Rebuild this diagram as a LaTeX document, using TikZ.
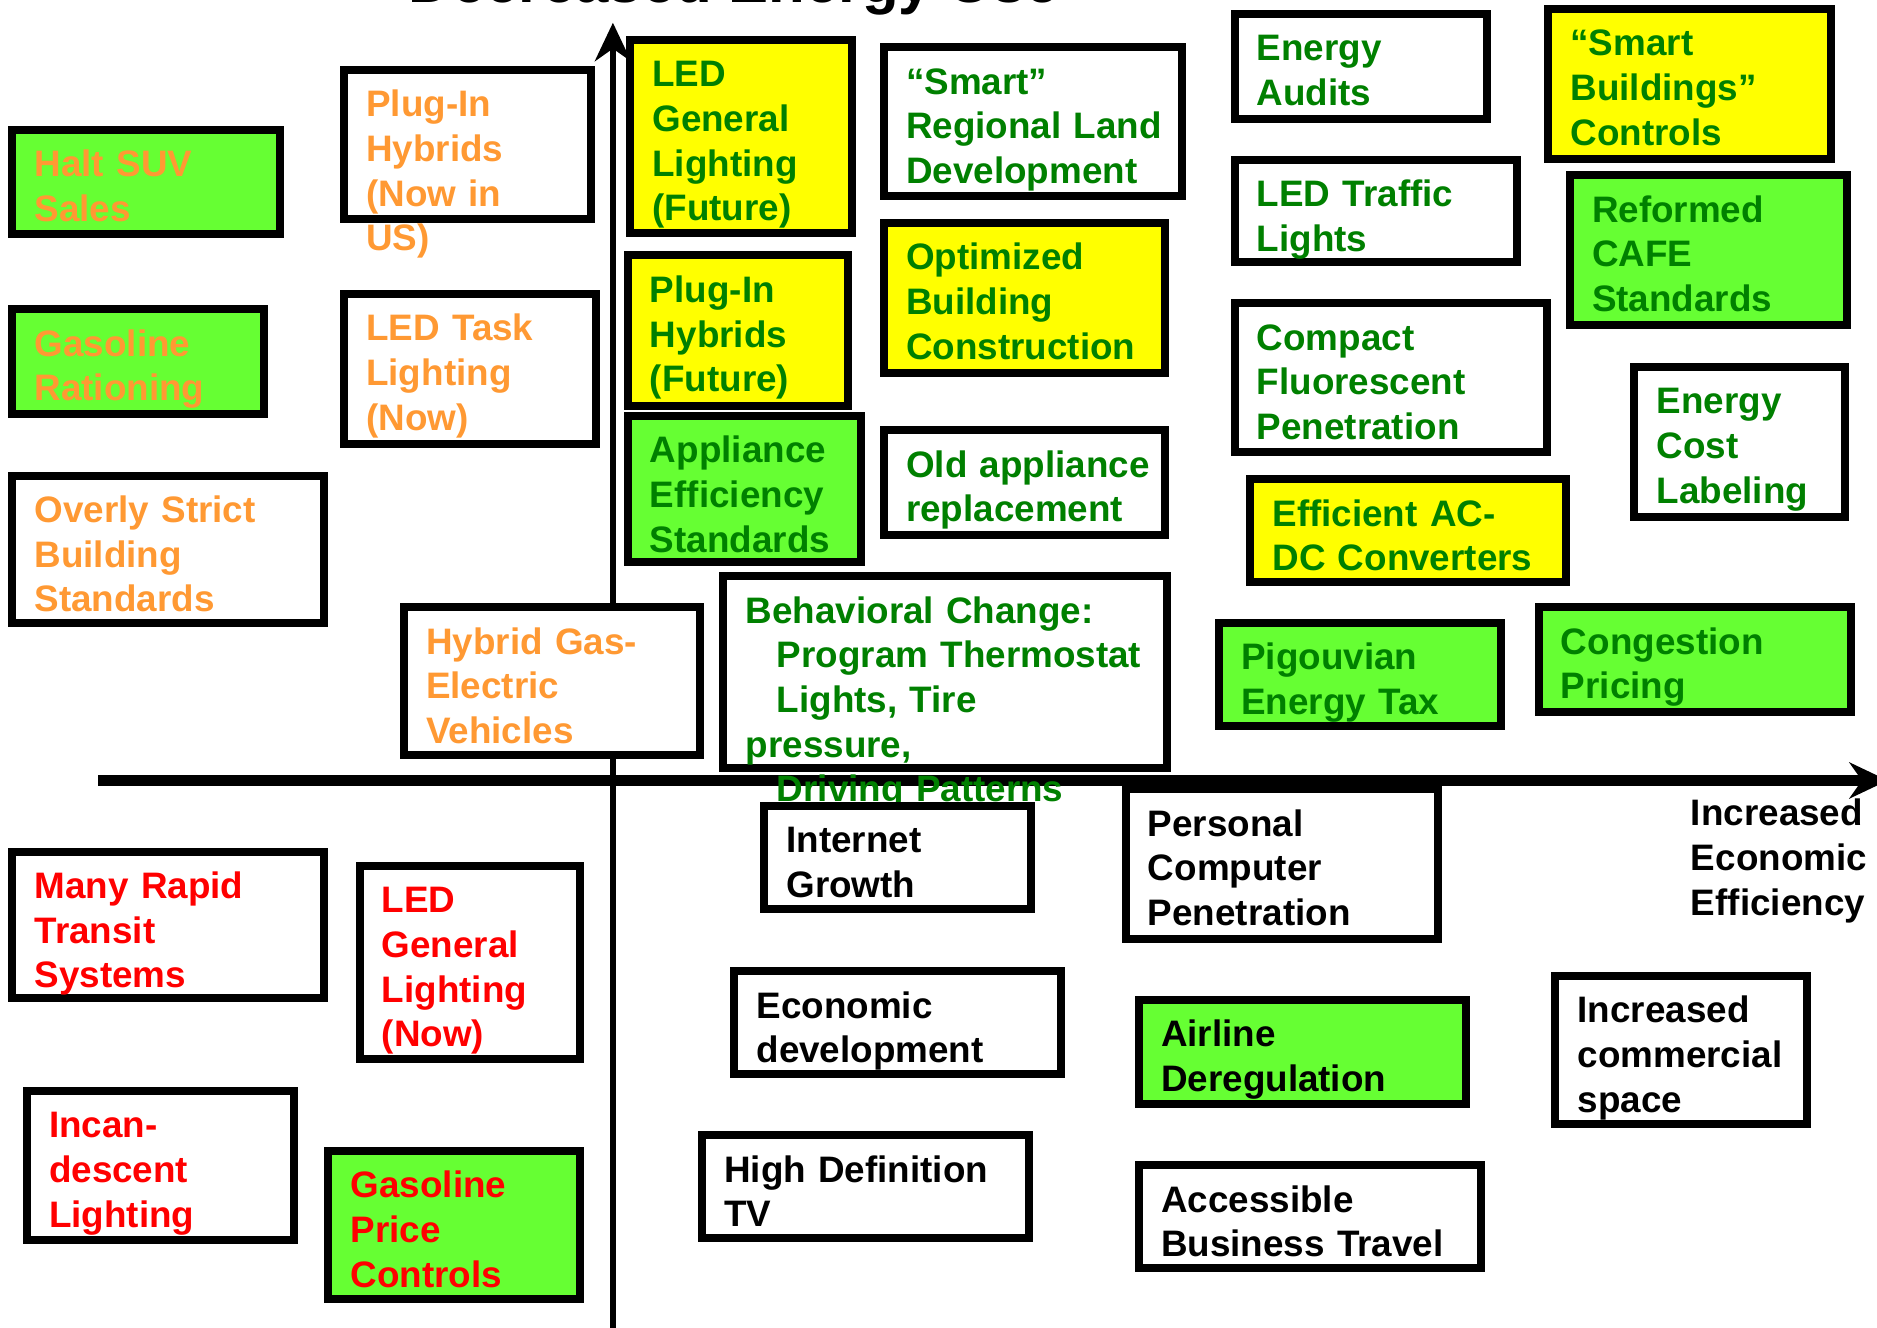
\documentclass[tikz,border=0pt]{standalone}
\usepackage{fontspec}
\setmainfont{Liberation Sans}
\usetikzlibrary{arrows.meta}
\definecolor{limefill}{RGB}{102,255,51}
\definecolor{sunfill}{RGB}{255,255,0}
\definecolor{leaftext}{RGB}{0,128,0}
\definecolor{ambertext}{RGB}{255,153,51}
\definecolor{alarmtext}{RGB}{255,0,0}
\newlength\gu
\setlength\gu{0.012cm}
\hyphenpenalty=10000
\exhyphenpenalty=10000
\tikzset{
  box/.style={draw=black, fill=white, line width=6.7\gu, anchor=north west, align=left, inner xsep=18.6\gu, inner ysep=0pt, text height=39.2\gu, font={\fontsize{10.5pt}{12.74pt}\selectfont\bfseries}},
  greenbox/.style={box, fill=limefill},
  yellowbox/.style={box, fill=sunfill},
  axisarrow/.style={-{Stealth[length=3.84mm,width=3.6mm]}, draw=black},
  axislabel/.style={anchor=base west, align=left, inner sep=0pt, text width=160\gu, font={\fontsize{10.5pt}{12.74pt}\selectfont\bfseries}},
  headline/.style={anchor=base, inner sep=0pt, font={\fontsize{17.1pt}{20pt}\selectfont\bfseries}}
}
\begin{document}
\begin{tikzpicture}[x=0.012cm, y=-0.012cm]
\useasboundingbox (0,0) rectangle (1568,1109);
% axes
\coordinate (ybot) at (512,1115);
\coordinate (ytop) at (512,19);
\coordinate (xleft) at (82,652);
\coordinate (xright) at (1577,652);
\draw[axisarrow, line width=5.6\gu] (ybot) -- (ytop);
\draw[axisarrow, line width=8.4\gu] (xleft) -- (xright);
\node[headline] (energyuse) at (613,2) {Decreased Energy Use};
\node[axislabel] (efficiency) at (1412,690) {Increased\\Economic\\Efficiency};
% upper left: orange
\node[greenbox, text=ambertext, text width=186\gu, text depth=48\gu] (haltsuv) at (7,105) {Halt~SUV\\Sales};
\node[greenbox, text=ambertext, text width=173\gu, text depth=48\gu] (gasration) at (7,255) {Gasoline\\Rationing};
\node[box, text=ambertext, text width=223\gu, text depth=84\gu] (strictcode) at (7,394) {Overly~Strict\\Building\\Standards};
\node[box, text=ambertext, text width=169\gu, text depth=85\gu] (pluginnow) at (284,55) {Plug-In\\Hybrids\\(Now~in\\US)};
\node[box, text=ambertext, text width=173\gu, text depth=86\gu] (ledtask) at (284,242) {LED~Task\\Lighting\\(Now)};
\node[box, text=ambertext, text width=210\gu, text depth=84\gu] (hybridgas) at (334,504) {Hybrid~Gas-\\Electric\\Vehicles};
% lower left: red
\node[box, text=alarmtext, text width=223\gu, text depth=83\gu] (rapidtransit) at (7,708) {Many~Rapid\\Transit\\Systems};
\node[box, text=alarmtext, text width=147\gu, text depth=122\gu] (lednow) at (297,720) {LED\\General\\Lighting\\(Now)};
\node[box, text=alarmtext, text width=186\gu, text depth=85\gu] (incandescent) at (19,908) {Incan-\\descent\\Lighting};
\node[greenbox, text=alarmtext, text width=173\gu, text depth=85\gu] (gasprice) at (271,958) {Gasoline\\Price\\Controls};
% upper right: green
\node[yellowbox, text=leaftext, text width=148\gu, text depth=122\gu] (ledfuture) at (523,30) {LED\\General\\Lighting\\(Future)};
\node[yellowbox, text=leaftext, text width=147\gu, text depth=87\gu] (pluginfuture) at (521,210) {Plug-In\\Hybrids\\(Future)};
\node[greenbox, text=leaftext, text width=158\gu, text depth=83\gu] (appliance) at (521,344) {Appliance\\Efficiency\\Standards};
\node[box, text=leaftext, text width=212\gu, text depth=85\gu] (smartland) at (735,36) {“Smart”\\Regional~Land\\Development};
\node[yellowbox, text=leaftext, text width=198\gu, text depth=86\gu] (optbuilding) at (735,183) {Optimized\\Building\\Construction};
\node[box, text=leaftext, text width=198\gu, text depth=48\gu] (oldappliance) at (735,356) {Old~appliance\\replacement};
\node[box, text=leaftext, text width=333\gu, text depth=121\gu] (behavior) at (601,478) {Behavioral~Change:\\\hspace*{26\gu}Program~Thermostat\\\hspace*{26\gu}Lights,~Tire\\pressure,\\\hspace*{26\gu}Driving~Patterns};
\node[box, text=leaftext, text width=174\gu, text depth=49\gu] (audits) at (1028,8) {Energy\\Audits};
\node[box, text=leaftext, text width=199\gu, text depth=46\gu] (ledtraffic) at (1028,130) {LED~Traffic\\Lights};
\node[box, text=leaftext, text width=224\gu, text depth=85\gu] (cfl) at (1028,250) {Compact\\Fluorescent\\Penetration};
\node[yellowbox, text=leaftext, text width=227\gu, text depth=47\gu] (acdc) at (1041,397) {Efficient~AC-\\DC~Converters};
\node[greenbox, text=leaftext, text width=198\gu, text depth=47\gu] (pigou) at (1015,517) {Pigouvian\\Energy~Tax};
\node[yellowbox, text=leaftext, text width=199\gu, text depth=86\gu] (smartbldg) at (1290,4) {“Smart\\Buildings”\\Controls};
\node[greenbox, text=leaftext, text width=194\gu, text depth=86\gu] (cafe) at (1308,143) {Reformed\\CAFE\\Standards};
\node[box, text=leaftext, text width=139\gu, text depth=86\gu] (costlabel) at (1362,303) {Energy\\Cost\\Labeling};
\node[greenbox, text=leaftext, text width=224\gu, text depth=48\gu] (congestion) at (1282,504) {Congestion\\Pricing};
% lower right: black
\node[box, text width=186\gu, text depth=47\gu] (internet) at (635,670) {Internet\\Growth};
\node[box, text width=224\gu, text depth=86\gu] (pcuse) at (937,656) {Personal\\Computer\\Penetration};
\node[box, text width=236\gu, text depth=47\gu] (econdev) at (610,808) {Economic\\development};
\node[greenbox, text width=236\gu, text depth=48\gu] (airline) at (948,832) {Airline\\Deregulation};
\node[box, text width=236\gu, text depth=47\gu] (hdtv) at (583,945) {High~Definition\\TV};
\node[box, text width=249\gu, text depth=47\gu] (bustravel) at (948,970) {Accessible\\Business~Travel};
\node[box, text width=173\gu, text depth=84\gu] (commspace) at (1296,812) {Increased\\commercial\\space};
\end{tikzpicture}
\end{document}
